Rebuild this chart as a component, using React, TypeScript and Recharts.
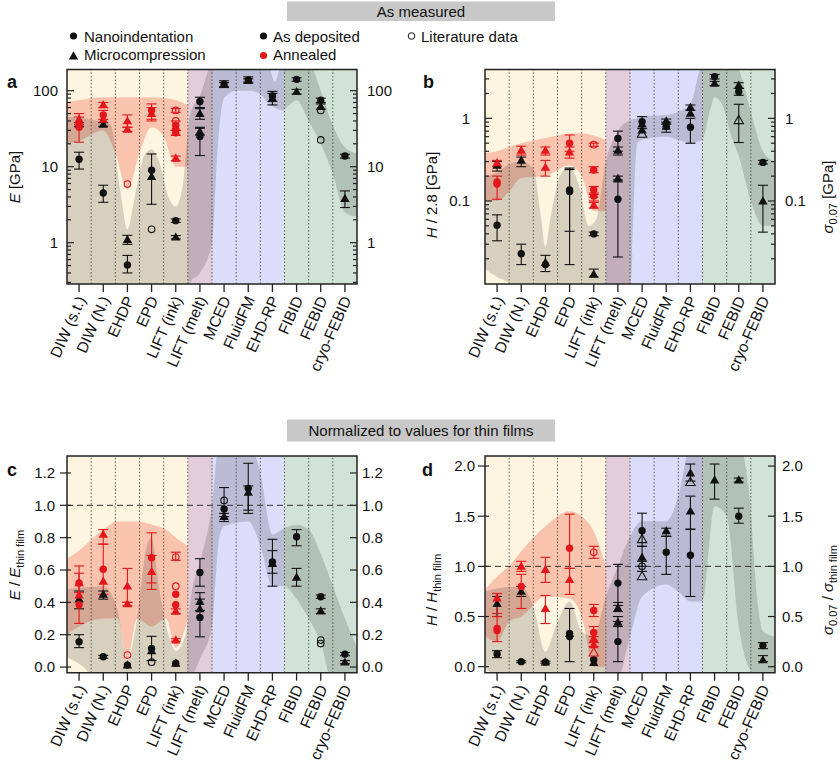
import React from 'react';
import { ComposedChart, Area, Scatter, ErrorBar, XAxis, YAxis, ReferenceArea, ReferenceLine } from 'recharts';

const FONT = '"Liberation Sans", Arial, Helvetica, sans-serif';

// ---------- categories ----------
const categories = ['DIW (s.t.)', 'DIW (N.)', 'EHDP', 'EPD', 'LIFT (ink)', 'LIFT (melt)', 'MCED', 'FluidFM', 'EHD-RP', 'FIBID', 'FEBID', 'cryo-FEBID'];
const catIdx = categories.map((_, i) => i);
const dividers = [0.5, 1.5, 2.5, 3.5, 4.5, 5.5, 6.5, 7.5, 8.5, 9.5, 10.5];
const bandGroups = [
  { from: 0, to: 4, color: '#FEF5E1' },
  { from: 5, to: 5, color: '#E3CDD9' },
  { from: 6, to: 8, color: '#DCDCFB' },
  { from: 9, to: 11, color: '#D1E3D6' },
];

type Pt = [number, number, number?, number?]; // [category index, value, low, high]
type Env = [number, number, number]; // [position, low, high]

// ---------- panel a : E [GPa] ----------
const aDepCircle: Pt[] = [[0, 12.5, 9.3, 15.5], [1, 4.5, 3.4, 5.7], [2, 0.51, 0.4, 0.68], [3, 9, 3.2, 14.7], [4, 1.95, 1.85, 2.05], [5, 72, 60, 82], [5, 25, 14, 32], [6, 122, 110, 135], [7, 138, 125, 152], [8, 85, 65, 98], [9, 141, 133, 148], [10, 75, 70, 80], [11, 13.8, 13, 14.6]];
const aDepTri: Pt[] = [[0, 36, 34, 38], [1, 36, 34, 38], [2, 1.1, 0.95, 1.25], [3, 7.4], [4, 1.18, 1.12, 1.24], [5, 50, 42, 58], [5, 29, 26, 33], [6, 120, 113, 128], [7, 136, 130, 143], [8, 80, 72, 92], [9, 97, 90, 104], [10, 62, 57, 67], [11, 3.8, 2.9, 4.8]];
const aAnnCircle: Pt[] = [[0, 33, 21, 45], [0, 37], [1, 48, 42, 55], [3, 55, 42, 67], [4, 35, 30, 40], [4, 31], [4, 28, 26, 30]];
const aAnnTri: Pt[] = [[0, 42, 36, 50], [1, 65, 60, 70], [1, 42], [2, 40, 33, 48], [2, 31, 29, 33], [3, 50, 40, 60], [4, 33], [4, 28], [4, 12.9, 12, 13.8]];
const aLitCircle: Pt[] = [[3, 1.5], [10, 55], [10, 22.5]];
const aLitTri: Pt[] = [];
const aLitAnnCircle: Pt[] = [[2, 5.9], [4, 55, 52, 58], [4, 40]];
const aLitAnnTri: Pt[] = [];
const aEnvGray: Env[] = [[-0.5, 0.1, 45], [0, 0.1, 44], [0.8, 0.1, 40], [1.3, 0.1, 36], [1.7, 0.1, 5], [2, 0.1, 1.5], [2.3, 0.1, 4], [2.7, 0.1, 14], [3, 0.1, 17], [3.3, 0.1, 12], [3.7, 0.1, 4], [4, 0.1, 3], [4.3, 0.1, 6], [4.6, 0.3, 50], [5, 0.4, 85], [5.5, 1, 250], [5.75, 20, 300], [6, 80, 300], [6.5, 100, 300], [7, 100, 300], [7.5, 90, 300], [7.8, 70, 250], [8.1, 60, 130], [8.4, 55, 250], [8.7, 65, 300], [9, 75, 300], [9.5, 40, 250], [10, 20, 100], [10.5, 8, 35], [11, 2.5, 18], [11.5, 2.2, 15]];
const aEnvRed: Env[] = [[-0.5, 20, 70], [0, 22, 75], [1, 30, 82], [1.5, 15, 82], [2, 5, 82], [2.5, 15, 82], [3, 33, 82], [3.5, 25, 80], [4, 10, 75], [4.5, 10, 65]];

// ---------- panel b : H / 2.8 [GPa] ----------
const bDepCircle: Pt[] = [[0, 0.051, 0.033, 0.068], [1, 0.023, 0.017, 0.03], [2, 0.017, 0.014, 0.022], [3, 0.136, 0.017, 0.24], [3, 0.13, 0.043, 0.25], [4, 0.04, 0.038, 0.042], [5, 0.57, 0.4, 0.7], [5, 0.105, 0.021, 0.18], [6, 0.91, 0.75, 1.05], [7, 0.8, 0.68, 0.9], [8, 0.78, 0.5, 1.0], [9, 3.2, 3.0, 3.4], [10, 2.1, 1.9, 2.3], [11, 0.293, 0.28, 0.31]];
const bDepTri: Pt[] = [[0, 0.27, 0.23, 0.3], [1, 0.31, 0.26, 0.34], [2, 0.018], [4, 0.013, 0.012, 0.015], [5, 0.41, 0.36, 0.45], [5, 0.188, 0.17, 0.2], [6, 0.85], [6, 0.72], [7, 0.93, 0.85, 0.98], [7, 0.8], [8, 1.36, 1.25, 1.45], [8, 1.15], [9, 2.65, 2.5, 2.8], [10, 2.5, 2.3, 2.7], [11, 0.1, 0.042, 0.155]];
const bAnnCircle: Pt[] = [[0, 0.16, 0.105, 0.2], [0, 0.17], [3, 0.5, 0.4, 0.63], [4, 0.237, 0.22, 0.26], [4, 0.137, 0.12, 0.15], [4, 0.115, 0.1, 0.125]];
const bAnnTri: Pt[] = [[0, 0.29, 0.26, 0.31], [1, 0.41, 0.36, 0.46], [2, 0.41, 0.36, 0.45], [2, 0.255, 0.2, 0.31], [3, 0.39, 0.33, 0.45], [4, 0.089, 0.082, 0.096], [4, 0.12]];
const bLitCircle: Pt[] = [];
const bLitTri: Pt[] = [[6, 0.65], [10, 0.95, 0.51, 1.48]];
const bLitAnnCircle: Pt[] = [[4, 0.48, 0.46, 0.5]];
const bLitAnnTri: Pt[] = [];
const bEnvGray: Env[] = [[-0.5, 0.015, 0.2], [0, 0.012, 0.22], [0.5, 0.01, 0.28], [1, 0.005, 0.3], [1.5, 0.005, 0.25], [1.8, 0.005, 0.07], [2, 0.005, 0.028], [2.2, 0.005, 0.06], [2.6, 0.005, 0.2], [3, 0.005, 0.26], [3.4, 0.005, 0.15], [3.8, 0.005, 0.05], [4.1, 0.005, 0.06], [4.5, 0.005, 0.3], [5, 0.005, 0.7], [5.5, 0.008, 0.95], [5.8, 0.5, 1.0], [6, 0.55, 1.05], [7, 0.6, 1.1], [7.5, 0.55, 1.2], [8, 0.5, 1.5], [8.5, 0.55, 5], [8.8, 1.2, 6], [9, 1.8, 6], [9.3, 1.5, 6], [9.7, 0.6, 6], [10, 0.35, 4], [10.5, 0.1, 1.2], [11, 0.05, 0.4], [11.5, 0.05, 0.3]];
const bEnvRed: Env[] = [[-0.5, 0.1, 0.38], [0, 0.1, 0.4], [0.5, 0.13, 0.45], [1, 0.19, 0.5], [2, 0.2, 0.58], [3, 0.27, 0.65], [3.5, 0.2, 0.66], [4, 0.075, 0.62], [4.5, 0.075, 0.55]];

// ---------- panel c : E / E thin film ----------
const cDepCircle: Pt[] = [[0, 0.157, 0.12, 0.2], [1, 0.064, 0.055, 0.072], [2, 0.012], [3, 0.115, 0.04, 0.19], [4, 0.023], [5, 0.585, 0.5, 0.67], [5, 0.307, 0.187, 0.42], [6, 0.977, 0.93, 1.11], [7, 1.105, 0.97, 1.26], [8, 0.65, 0.58, 0.72], [9, 0.806, 0.75, 0.85], [10, 0.435, 0.425, 0.445], [11, 0.08, 0.07, 0.09]];
const cDepTri: Pt[] = [[0, 0.42, 0.36, 0.47], [1, 0.45, 0.42, 0.47], [2, 0.012], [3, 0.1], [4, 0.023], [5, 0.405, 0.35, 0.46], [5, 0.36], [6, 0.93, 0.9, 0.95], [7, 1.08, 0.95, 1.12], [8, 0.64, 0.5, 0.79], [9, 0.555, 0.5, 0.61], [10, 0.348, 0.33, 0.36], [11, 0.03, 0.02, 0.04]];
const cAnnCircle: Pt[] = [[0, 0.52], [0, 0.385, 0.27, 0.625], [1, 0.605, 0.45, 0.76], [3, 0.676, 0.52, 0.83], [4, 0.45], [4, 0.385]];
const cAnnTri: Pt[] = [[0, 0.52, 0.46, 0.58], [0, 0.445], [1, 0.82, 0.76, 0.85], [1, 0.53], [2, 0.5, 0.4, 0.61], [2, 0.39, 0.38, 0.4], [3, 0.59, 0.48, 0.69], [4, 0.345, 0.33, 0.36], [4, 0.167, 0.16, 0.175]];
const cLitCircle: Pt[] = [[3, 0.03], [6, 1.03], [10, 0.167], [10, 0.145]];
const cLitTri: Pt[] = [];
const cLitAnnCircle: Pt[] = [[2, 0.074], [4, 0.68, 0.66, 0.71], [4, 0.5]];
const cLitAnnTri: Pt[] = [];
const cEnvGray: Env[] = [[-0.5, 0.06, 0.48], [0, 0.02, 0.49], [1, -0.1, 0.5], [1.6, -0.1, 0.35], [2, -0.1, 0.04], [2.4, -0.1, 0.3], [2.8, -0.1, 0.75], [3, -0.1, 0.8], [3.3, -0.1, 0.5], [3.7, -0.1, 0.2], [4, -0.1, 0.1], [4.4, -0.1, 0.2], [4.7, -0.05, 0.5], [5, 0.05, 0.65], [5.5, 0.25, 1.0], [5.8, 0.8, 1.4], [6, 0.87, 1.4], [7, 0.9, 1.4], [7.5, 0.75, 1.2], [8, 0.5, 0.82], [8.5, 0.5, 0.86], [9, 0.42, 0.88], [9.5, 0.3, 0.85], [10, 0.15, 0.7], [10.5, -0.1, 0.5], [11, -0.1, 0.3], [11.5, -0.1, 0.12]];
const cEnvRed: Env[] = [[-0.5, 0.2, 0.67], [0, 0.25, 0.72], [1, 0.3, 0.85], [1.6, 0.3, 0.9], [2, 0.05, 0.9], [2.4, 0.3, 0.9], [3, 0.25, 0.88], [3.6, 0.3, 0.85], [4, 0.12, 0.8], [4.5, 0.3, 0.75]];

// ---------- panel d : H / H thin film ----------
const dDepCircle: Pt[] = [[0, 0.127, 0.09, 0.16], [1, 0.05, 0.04, 0.06], [2, 0.045, 0.035, 0.055], [3, 0.3, 0.05, 0.58], [3, 0.33], [4, 0.07], [5, 0.833, 0.61, 1.02], [5, 0.25, 0.05, 0.45], [6, 1.355, 1.2, 1.53], [7, 1.14, 0.92, 1.3], [8, 1.11, 0.7, 1.37], [10, 1.5, 1.43, 1.58], [11, 0.21, 0.18, 0.24]];
const dDepTri: Pt[] = [[0, 0.63, 0.5, 0.7], [1, 0.75, 0.7, 0.8], [2, 0.045], [3, 0.33], [4, 0.04], [5, 0.585, 0.55, 0.64], [5, 0.443, 0.4, 0.5], [6, 1.09, 1.0, 1.2], [7, 1.355, 1.3, 1.38], [8, 1.93, 1.85, 2.02], [8, 1.55, 1.37, 1.7], [9, 1.86, 1.67, 2.02], [10, 1.86, 1.84, 1.88], [11, 0.067, 0.05, 0.11]];
const dAnnCircle: Pt[] = [[0, 0.38, 0.25, 0.5], [0, 0.36], [1, 0.8, 0.58, 0.92], [3, 1.18, 0.98, 1.52], [4, 0.56, 0.5, 0.62], [4, 0.34, 0.3, 0.4]];
const dAnnTri: Pt[] = [[0, 0.684, 0.53, 0.73], [1, 1.0, 0.95, 1.05], [2, 0.967, 0.84, 1.09], [2, 0.58, 0.43, 0.71], [3, 0.867, 0.72, 0.98], [4, 0.28], [4, 0.217, 0.2, 0.24]];
const dLitCircle: Pt[] = [[6, 1.0, 0.95, 1.05]];
const dLitTri: Pt[] = [[6, 1.27], [6, 0.9], [8, 1.84]];
const dLitAnnCircle: Pt[] = [[4, 1.14, 1.08, 1.2]];
const dLitAnnTri: Pt[] = [[4, 0.14]];
const dEnvGray: Env[] = [[-0.5, 0.0, 0.75], [0, -0.1, 0.78], [1, -0.1, 0.8], [1.5, -0.1, 0.6], [2, -0.1, 0.15], [2.5, -0.1, 0.45], [3, -0.1, 0.65], [3.5, -0.1, 0.35], [4, -0.1, 0.3], [4.5, -0.1, 0.7], [5, -0.1, 1.0], [5.5, 0.3, 1.3], [6, 0.7, 1.45], [7, 0.82, 1.45], [7.5, 0.75, 1.7], [8, 0.65, 2.2], [8.5, 0.65, 2.2], [9, 1.6, 2.2], [9.5, 1.5, 2.2], [10, 0.4, 2.2], [10.4, 0.0, 1.8], [10.8, -0.1, 0.6], [11, -0.1, 0.35], [11.5, -0.1, 0.3]];
const dEnvRed: Env[] = [[-0.5, 0.3, 0.77], [0, 0.25, 0.9], [0.5, 0.45, 1.0], [1, 0.5, 1.15], [2, 0.7, 1.4], [3, 0.68, 1.55], [3.5, 0.5, 1.5], [4, 0.0, 1.35], [4.5, 0.0, 1.0]];

// ---------- tick values ----------
const aTicks = [0.3, 0.4, 0.5, 0.6, 0.7, 0.8, 0.9, 1, 2, 3, 4, 5, 6, 7, 8, 9, 10, 20, 30, 40, 50, 60, 70, 80, 90, 100];
const aMajors = [1, 10, 100];
const bTicks = [0.02, 0.03, 0.04, 0.05, 0.06, 0.07, 0.08, 0.09, 0.1, 0.2, 0.3, 0.4, 0.5, 0.6, 0.7, 0.8, 0.9, 1, 2, 3];
const bMajors = [0.1, 1];
const cTicks = [0, 0.2, 0.4, 0.6, 0.8, 1.0, 1.2];
const dTicks = [0, 0.5, 1.0, 1.5, 2.0];

// ---------- helpers ----------
const RED = '#E3161B';
const BLACK = '#111111';

const toPts = (rows: Pt[]) =>
  rows.map(([x, y, lo, hi]) => ({ x, y, e: lo !== undefined && hi !== undefined ? [y - lo, hi - y] : undefined }));
const toEnv = (rows: Env[]) => rows.map(([x, lo, hi]) => ({ x, r: [lo, hi] }));

function marker(kind: string, color: string) {
  return (p: any) => {
    const { cx, cy } = p;
    if (cx == null || cy == null || isNaN(cx) || isNaN(cy)) return <g />;
    if (kind === 'circle') return <circle cx={cx} cy={cy} r={3.7} fill={color} />;
    if (kind === 'ocircle') return <circle cx={cx} cy={cy} r={3.3} fill="none" stroke={color} strokeWidth={1.1} />;
    const d = `M${cx},${cy - 4.8}L${cx + 4.7},${cy + 3.4}L${cx - 4.7},${cy + 3.4}Z`;
    if (kind === 'tri') return <path d={d} fill={color} />;
    return <path d={d} fill="none" stroke={color} strokeWidth={1.1} />;
  };
}

const XTick = (p: any) => {
  const { x, y, payload } = p;
  const label = categories[payload.value];
  const ax = x + 2;
  const ay = y + 13;
  return (
    <g>
      <line x1={x} x2={x} y1={y} y2={y + 8} stroke="#222" strokeWidth={1.3} />
      <text x={ax} y={ay} dy="0.35em" textAnchor="end" transform={`rotate(-66 ${ax} ${ay})`} fontSize={15.5} fontFamily={FONT} fill="#111">
        {label}
      </text>
    </g>
  );
};

function makeYTick(side: 'left' | 'right', majors: number[], fmt: (v: number) => string, gap: number, style: 'in' | 'cross') {
  return (p: any) => {
    const { x, y, payload } = p;
    const v = payload.value;
    const isMajor = majors.some((m) => Math.abs(m - v) < 1e-9);
    const inward = side === 'left' ? 1 : -1;
    let inLen = isMajor ? 7 : 4;
    let outLen = 0;
    if (style === 'cross') {
      inLen = side === 'left' ? 4 : 7;
      outLen = side === 'left' ? 7 : 0;
    }
    return (
      <g>
        <line x1={x - inward * outLen} x2={x + inward * inLen} y1={y} y2={y} stroke="#222" strokeWidth={1.2} />
        {isMajor && (
          <text x={side === 'left' ? x - gap : x + gap} y={y} dy="0.36em" textAnchor={side === 'left' ? 'end' : 'start'} fontSize={15} fontFamily={FONT} fill="#111">
            {fmt(v)}
          </text>
        )}
      </g>
    );
  };
}

type Series = { pts: Pt[]; kind: string; color: string };

type PanelCfg = {
  left: number; top: number; width: number; height: number; mt: number;
  yLW: number; yRW: number; xH: number;
  scale: 'log' | 'linear'; domain: [number, number]; ticks: number[]; majors: number[];
  fmt: (v: number) => string; leftGap: number; rightGap: number; style: 'in' | 'cross';
  series: Series[]; gray: Env[]; red: Env[]; dashed: boolean;
};

const fmtLog = (v: number) => String(v);
const fmt1 = (v: number) => v.toFixed(1);

const mkSeries = (dc: Pt[], dt: Pt[], lc: Pt[], lt: Pt[], ac: Pt[], at: Pt[], lac: Pt[], lat: Pt[]): Series[] => [
  { pts: dc, kind: 'circle', color: BLACK },
  { pts: dt, kind: 'tri', color: BLACK },
  { pts: lc, kind: 'ocircle', color: BLACK },
  { pts: lt, kind: 'otri', color: BLACK },
  { pts: ac, kind: 'circle', color: RED },
  { pts: at, kind: 'tri', color: RED },
  { pts: lac, kind: 'ocircle', color: RED },
  { pts: lat, kind: 'otri', color: RED },
];

const panels: PanelCfg[] = [
  {
    left: 0, top: 60, width: 420, height: 330, mt: 9.5, yLW: 67, yRW: 63, xH: 106,
    scale: 'log', domain: [0.286, 190], ticks: aTicks, majors: aMajors, fmt: fmtLog, leftGap: 9, rightGap: 10, style: 'in',
    series: mkSeries(aDepCircle, aDepTri, aLitCircle, aLitTri, aAnnCircle, aAnnTri, aLitAnnCircle, aLitAnnTri),
    gray: aEnvGray, red: aEnvRed, dashed: false,
  },
  {
    left: 420, top: 60, width: 420, height: 330, mt: 9.5, yLW: 65, yRW: 65, xH: 106,
    scale: 'log', domain: [0.0099, 3.9], ticks: bTicks, majors: bMajors, fmt: fmtLog, leftGap: 15, rightGap: 10, style: 'in',
    series: mkSeries(bDepCircle, bDepTri, bLitCircle, bLitTri, bAnnCircle, bAnnTri, bLitAnnCircle, bLitAnnTri),
    gray: bEnvGray, red: bEnvRed, dashed: false,
  },
  {
    left: 0, top: 446, width: 420, height: 325, mt: 10, yLW: 67, yRW: 63, xH: 98.3,
    scale: 'linear', domain: [-0.035, 1.305], ticks: cTicks, majors: cTicks, fmt: fmt1, leftGap: 12, rightGap: 5, style: 'cross',
    series: mkSeries(cDepCircle, cDepTri, cLitCircle, cLitTri, cAnnCircle, cAnnTri, cLitAnnCircle, cLitAnnTri),
    gray: cEnvGray, red: cEnvRed, dashed: true,
  },
  {
    left: 420, top: 446, width: 420, height: 325, mt: 10, yLW: 65, yRW: 65, xH: 98.3,
    scale: 'linear', domain: [-0.06, 2.1], ticks: dTicks, majors: dTicks, fmt: fmt1, leftGap: 10, rightGap: 7, style: 'cross',
    series: mkSeries(dDepCircle, dDepTri, dLitCircle, dLitTri, dAnnCircle, dAnnTri, dLitAnnCircle, dLitAnnTri),
    gray: dEnvGray, red: dEnvRed, dashed: true,
  },
];

function Panel({ cfg }: { cfg: PanelCfg }) {
  const extra: any = {};
  return (
    <div style={{ position: 'absolute', left: cfg.left, top: cfg.top }}>
      <ComposedChart width={cfg.width} height={cfg.height} margin={{ top: cfg.mt, right: 0, bottom: 0, left: 0 }}>
        <XAxis
          type="number" dataKey="x" domain={[-0.5, 11.5]} ticks={catIdx} interval={0} allowDataOverflow
          tickSize={0} tickMargin={0} tickLine={false} axisLine={false} height={cfg.xH} tick={XTick}
        />
        <YAxis
          type="number" scale={cfg.scale} domain={cfg.domain} allowDataOverflow ticks={cfg.ticks} interval={0}
          width={cfg.yLW} tickSize={0} tickMargin={0} tickLine={false} axisLine={false}
          tick={makeYTick('left', cfg.majors, cfg.fmt, cfg.leftGap, cfg.style)}
        />
        <YAxis
          yAxisId="r" orientation="right" type="number" scale={cfg.scale} domain={cfg.domain} allowDataOverflow ticks={cfg.ticks} interval={0}
          width={cfg.yRW} tickSize={0} tickMargin={0} tickLine={false} axisLine={false}
          tick={makeYTick('right', cfg.majors, cfg.fmt, cfg.rightGap, cfg.style)}
        />
        {bandGroups.map((b, i) => (
          <ReferenceArea key={'bg' + i} x1={b.from - 0.5} x2={b.to + 0.5} fill={b.color} fillOpacity={1} stroke="none" zIndex={-200} {...extra} />
        ))}
        <Area data={toEnv(cfg.red)} dataKey="r" type="monotone" fill="#F05A45" fillOpacity={0.32} stroke="none" isAnimationActive={false} dot={false} activeDot={false} zIndex={100} />
        <Area data={toEnv(cfg.gray)} dataKey="r" type="monotone" fill="#000000" fillOpacity={0.15} stroke="none" isAnimationActive={false} dot={false} activeDot={false} zIndex={101} />
        {dividers.map((d) => (
          <ReferenceLine key={'dv' + d} x={d} stroke="#333" strokeWidth={0.8} strokeDasharray="1.5 2" zIndex={300} />
        ))}
        {cfg.dashed && <ReferenceLine y={1} stroke="#333" strokeWidth={1} strokeDasharray="6 4" zIndex={301} />}
        {cfg.series.map((s, i) =>
          s.pts.length ? (
            <Scatter key={'s' + i} data={toPts(s.pts)} dataKey="y" shape={marker(s.kind, s.color)} isAnimationActive={false} zIndex={600 + i}>
              <ErrorBar dataKey="e" direction="y" width={5} stroke={s.color} strokeWidth={1.1} />
            </Scatter>
          ) : null
        )}
        <ReferenceArea x1={-0.5} x2={11.5} fill="none" fillOpacity={0} stroke="#222" strokeWidth={1.5} zIndex={1900} />
      </ComposedChart>
    </div>
  );
}

const T = { fontFamily: FONT, fill: '#111' } as const;

function Overlay() {
  return (
    <svg width={840} height={771} style={{ position: 'absolute', left: 0, top: 0, pointerEvents: 'none' }}>
      {/* section headers */}
      <rect x={287} y={1.5} width={268} height={19.5} fill="#C8C8C8" />
      <text x={421} y={16.5} textAnchor="middle" fontSize={15} {...T}>As measured</text>
      <rect x={287} y={419.5} width={268} height={22} fill="#C8C8C8" />
      <text x={421} y={435.5} textAnchor="middle" fontSize={15} {...T}>Normalized to values for thin films</text>

      {/* legend */}
      <circle cx={73.5} cy={36} r={3.6} fill={BLACK} />
      <text x={84} y={41.5} fontSize={15} {...T}>Nanoindentation</text>
      <path d="M73.5,51.2L78.2,59.4L68.8,59.4Z" fill={BLACK} />
      <text x={84} y={60} fontSize={15} {...T}>Microcompression</text>
      <circle cx={263.5} cy={36} r={3.6} fill={BLACK} />
      <text x={273} y={41.5} fontSize={15} {...T}>As deposited</text>
      <circle cx={263.5} cy={55.5} r={3.6} fill={RED} />
      <text x={273} y={60} fontSize={15} {...T}>Annealed</text>
      <circle cx={411.5} cy={36} r={3.3} fill="none" stroke={BLACK} strokeWidth={1} />
      <text x={421} y={41.5} fontSize={15} {...T}>Literature data</text>

      {/* panel letters */}
      <text x={7} y={88} fontSize={18} fontWeight="bold" {...T}>a</text>
      <text x={423} y={88} fontSize={18} fontWeight="bold" {...T}>b</text>
      <text x={7} y={476} fontSize={18} fontWeight="bold" {...T}>c</text>
      <text x={422} y={476} fontSize={18} fontWeight="bold" {...T}>d</text>

      {/* axis titles */}
      <text transform="translate(20,177) rotate(-90)" textAnchor="middle" fontSize={15} {...T}>
        <tspan fontStyle="italic">E</tspan>
        <tspan>{'  [GPa]'}</tspan>
      </text>
      <text transform="translate(437,195) rotate(-90)" textAnchor="middle" fontSize={15} {...T}>
        <tspan fontStyle="italic">H</tspan>
        <tspan>{' / 2.8 [GPa]'}</tspan>
      </text>
      <text transform="translate(833,197) rotate(-90)" textAnchor="middle" fontSize={15} {...T}>
        <tspan fontStyle="italic">σ</tspan>
        <tspan fontSize={11} dy={4}>0.07</tspan>
        <tspan dy={-4}>{' [GPa]'}</tspan>
      </text>
      <text transform="translate(20,565) rotate(-90)" textAnchor="middle" fontSize={15} {...T}>
        <tspan fontStyle="italic">E</tspan>
        <tspan>{' / '}</tspan>
        <tspan fontStyle="italic">E</tspan>
        <tspan fontSize={11} dy={4}>thin film</tspan>
      </text>
      <text transform="translate(437,590) rotate(-90)" textAnchor="middle" fontSize={15} {...T}>
        <tspan fontStyle="italic">H</tspan>
        <tspan>{' / '}</tspan>
        <tspan fontStyle="italic">H</tspan>
        <tspan fontSize={11} dy={4}>thin film</tspan>
      </text>
      <text transform="translate(833,590) rotate(-90)" textAnchor="middle" fontSize={15} {...T}>
        <tspan fontStyle="italic">σ</tspan>
        <tspan fontSize={11} dy={4}>0.07</tspan>
        <tspan dy={-4}>{' / '}</tspan>
        <tspan fontStyle="italic">σ</tspan>
        <tspan fontSize={11} dy={4}>thin film</tspan>
      </text>
    </svg>
  );
}

export default function App() {
  return (
    <div style={{ position: 'absolute', left: 0, top: 0, width: 840, height: 771, background: '#fff', fontFamily: FONT, overflow: 'hidden' }}>
      {panels.map((cfg, i) => (
        <Panel key={i} cfg={cfg} />
      ))}
      <Overlay />
    </div>
  );
}
